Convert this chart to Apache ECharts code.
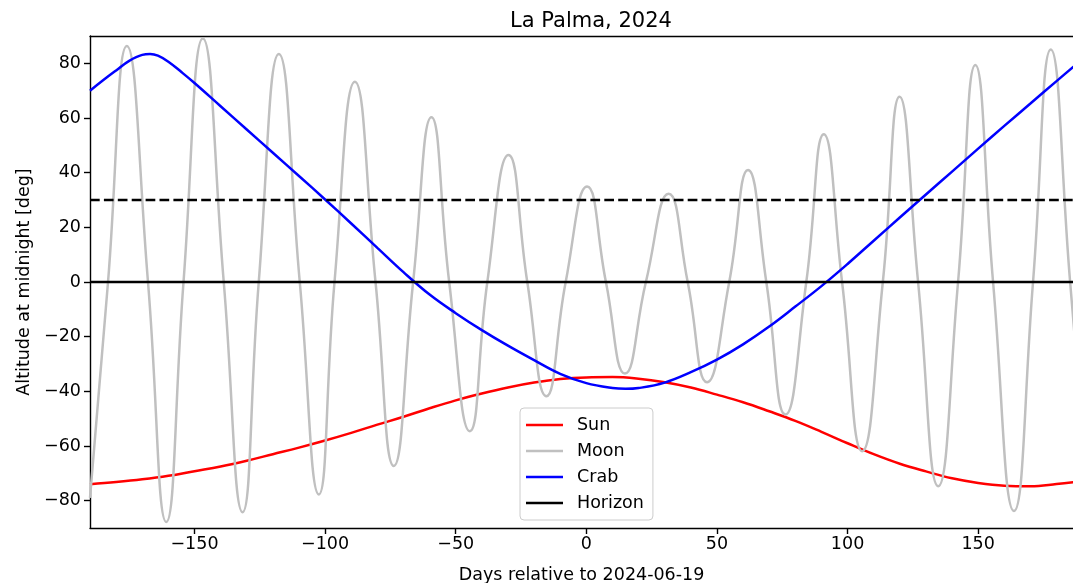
<!DOCTYPE html>
<html>
<head>
<meta charset="utf-8">
<script src="https://cdn.jsdelivr.net/npm/echarts@6/dist/echarts.min.js"></script>
<style>
html,body{margin:0;padding:0;background:#fff;}
#c{width:1073px;height:583px;}
</style>
</head>
<body>
<div id="c"></div>
<script>
// ---- data ----
const xTicks = [-150, -100, -50, 0, 50, 100, 150];
const yTicks = [-80, -60, -40, -20, 0, 20, 40, 60, 80];

const sunDays = [-190,-180,-170,-160,-150,-140,-130,-120,-110,-100,-90,-80,-70,-60,-50,-40,-30,-20,-10,0,10,20,30,40,50,60,70,80,90,100,110,120,130,140,150,160,170,180,190];
const sunAlt  = [-74.0,-73.2,-72.2,-70.9,-69.2,-67.5,-65.4,-63.0,-60.6,-58.0,-55.2,-52.2,-49.3,-46.2,-43.3,-40.8,-38.6,-36.8,-35.5,-34.9,-34.8,-35.4,-36.7,-38.6,-41.2,-44.0,-47.3,-50.8,-54.8,-59.0,-63.0,-66.5,-69.3,-71.8,-73.5,-74.5,-74.7,-73.9,-72.8];

const moonDays = [-190,-183.1,-175.9,-167.8,-160.8,-154.2,-146.8,-138.8,-131.6,-125.4,-117.7,-109.7,-102.4,-96.4,-88.6,-80.7,-73.7,-66.3,-59.3,-52.5,-44.6,-37.9,-29.8,-22.6,-15.3,-7.9,0.3,7.5,14.8,22.8,31.5,38.8,46.2,54.7,61.9,68.9,76.2,84.2,90.9,97.9,105.6,113.5,119.9,127.0,134.7,142.3,148.9,155.7,163.7,171.0,177.8,185.2,190];
const moonAlt  = [-79,0,86.3,0,-87.8,0,89.1,0,-84.2,0,83.4,0,-77.7,0,73.3,0,-67.3,0,60.3,0,-54.6,0,46.5,0,-41.8,0,34.9,0,-33.5,0,32.3,0,-36.7,0,41.0,0,-48.5,0,54.1,0,-61.9,0,67.8,0,-74.7,0,79.4,0,-83.8,0,85.1,0,-55];

const crabDays = [-190,-185,-180,-175,-170,-167,-164,-160,-155,-150,-140,-130,-120,-110,-100,-90,-80,-70,-60,-50,-40,-30,-20,-10,0,10,15,20,30,40,50,60,70,80,90,100,110,120,130,140,150,160,170,180,190];
const crabAlt  = [70.0,73.8,77.4,80.9,83.1,83.4,82.8,80.6,76.8,72.8,64.3,55.8,47.3,38.8,30.2,21.4,12.5,3.6,-4.6,-11.4,-17.6,-23.3,-28.6,-33.6,-37.0,-38.8,-39.1,-38.8,-36.8,-33.0,-28.4,-22.8,-16.3,-9.0,-1.5,6.6,15.1,23.6,32.0,40.4,48.8,57.1,65.3,73.5,81.6];

const horizonDays = [-190, 190];
const horizonAlt  = [0, 0];
const limitDays = [-190, 190];
const limitAlt  = [30, 30];

const seriesNames = ['Sun', 'Moon', 'Crab', 'Horizon'];

// ---- build ----
const zip = (xs, ys) => xs.map((x, i) => [x, ys[i]]);
const FONT = 'DejaVu Sans';
const minus = v => String(v).replace('-', '\u2212');
const X_MIN = -190, X_MAX = 186.3;

const chart = echarts.init(document.getElementById('c'), null, {renderer: 'canvas'});
chart.setOption({
  animation: false,
  backgroundColor: '#ffffff',
  title: {
    text: 'La Palma, 2024',
    left: 586, top: 6, textAlign: 'center',
    textStyle: {fontFamily: FONT, fontSize: 21, fontWeight: 'normal', color: '#000'}
  },
  grid: {left: 90, top: 36, right: 0, height: 492, outerBoundsMode: 'none', containLabel: false},
  legend: {
    data: seriesNames.map(n => ({name: n, icon: 'rect'})),
    orient: 'vertical', left: 520, top: 408,
    itemWidth: 37, itemHeight: 2.6, itemGap: 6,
    padding: [7, 9, 7, 6],
    backgroundColor: 'rgba(255,255,255,0.8)',
    borderColor: '#cccccc', borderWidth: 1, borderRadius: 4,
    textStyle: {fontFamily: FONT, fontSize: 17.5, color: '#000', lineHeight: 20, padding: [0, 0, 0, 9]}
  },
  xAxis: [{
    type: 'value', min: X_MIN, max: X_MAX,
    name: 'Days relative to 2024-06-19', nameLocation: 'middle', nameGap: 38,
    nameTextStyle: {fontFamily: FONT, fontSize: 17.5, color: '#000'},
    axisLine: {show: true, onZero: false, lineStyle: {color: '#000', width: 1.4}},
    axisTick: {show: true, length: 6, lineStyle: {color: '#000', width: 1.4}, customValues: xTicks},
    axisLabel: {fontFamily: FONT, fontSize: 17.5, color: '#000', margin: 7, customValues: xTicks, formatter: minus},
    splitLine: {show: false}
  }, {
    type: 'value', min: X_MIN, max: X_MAX, position: 'top',
    axisLine: {show: true, onZero: false, lineStyle: {color: '#000', width: 1.4}},
    axisTick: {show: false}, axisLabel: {show: false}, splitLine: {show: false}
  }],
  yAxis: {
    type: 'value', min: -90, max: 90,
    name: 'Altitude at midnight [deg]', nameLocation: 'middle', nameGap: 56,
    nameTextStyle: {fontFamily: FONT, fontSize: 17.5, color: '#000'},
    axisLine: {show: true, onZero: false, lineStyle: {color: '#000', width: 1.4}},
    axisTick: {show: true, length: 6, lineStyle: {color: '#000', width: 1.4}, customValues: yTicks},
    axisLabel: {fontFamily: FONT, fontSize: 17.5, color: '#000', margin: 9, customValues: yTicks, formatter: minus},
    splitLine: {show: false}
  },
  series: [
    {name: 'Sun', type: 'line', data: zip(sunDays, sunAlt), smooth: 0.4, symbol: 'none',
     lineStyle: {color: '#ff0000', width: 2.5}, itemStyle: {color: '#ff0000'}},
    {name: 'Moon', type: 'line', data: zip(moonDays, moonAlt), smooth: 0.5, symbol: 'none',
     lineStyle: {color: '#c0c0c0', width: 2.5}, itemStyle: {color: '#c0c0c0'}},
    {name: 'Crab', type: 'line', data: zip(crabDays, crabAlt), smooth: 0.4, symbol: 'none',
     lineStyle: {color: '#0000ff', width: 2.5}, itemStyle: {color: '#0000ff'}},
    {name: 'Horizon', type: 'line', data: zip(horizonDays, horizonAlt), symbol: 'none',
     lineStyle: {color: '#000000', width: 2.5}, itemStyle: {color: '#000000'}},
    {name: 'limit', type: 'line', data: zip(limitDays, limitAlt), symbol: 'none',
     lineStyle: {color: '#000000', width: 2.5, type: [9.7, 4.2]}, itemStyle: {color: '#000000'}}
  ]
});
</script>
</body>
</html>
